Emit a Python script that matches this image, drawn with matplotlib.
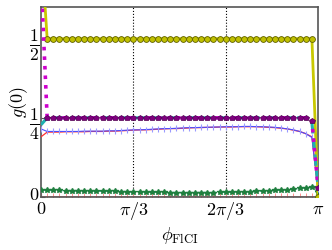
import numpy as np
import matplotlib
matplotlib.use('Agg')
import matplotlib.pyplot as plt
from matplotlib.transforms import ScaledTranslation

plt.rcParams['mathtext.fontset'] = 'cm'
plt.rcParams['font.family'] = 'DejaVu Serif'

# 46 samples of phi between 0 and pi
phi = np.linspace(0, np.pi, 46)

yellow = [0.80] + [0.50] * 44 + [0.0]
magenta = [0.69] + [0.25] * 43 + [0.24, 0.03]
teal = [0.228] + [0.25] * 43 + [0.235, 0.03]
red = [0.190, 0.205, 0.205, 0.205, 0.206, 0.206, 0.206, 0.206, 0.207, 0.207,
       0.207, 0.208, 0.208, 0.209, 0.210, 0.211, 0.212, 0.212, 0.213, 0.214,
       0.215, 0.216, 0.216, 0.217, 0.218, 0.219, 0.219, 0.220, 0.220, 0.221,
       0.221, 0.221, 0.222, 0.222, 0.222, 0.222, 0.221, 0.220, 0.219, 0.217,
       0.215, 0.211, 0.207, 0.200, 0.190, 0.020]
blue = [0.215, 0.207, 0.207, 0.207, 0.207, 0.207, 0.207, 0.208, 0.208, 0.208,
        0.208, 0.209, 0.209, 0.210, 0.211, 0.212, 0.212, 0.213, 0.214, 0.215,
        0.216, 0.216, 0.217, 0.218, 0.219, 0.219, 0.220, 0.220, 0.221, 0.221,
        0.222, 0.222, 0.222, 0.223, 0.223, 0.222, 0.222, 0.221, 0.220, 0.218,
        0.215, 0.212, 0.207, 0.200, 0.188, 0.025]
green = [0.022, 0.021, 0.021, 0.021, 0.020, 0.020, 0.020, 0.019, 0.019, 0.019,
         0.018, 0.018, 0.018, 0.017, 0.017, 0.016, 0.016, 0.016, 0.015, 0.015,
         0.015, 0.014, 0.014, 0.014, 0.014, 0.014, 0.014, 0.014, 0.014, 0.015,
         0.015, 0.015, 0.016, 0.016, 0.017, 0.018, 0.019, 0.020, 0.021, 0.022,
         0.023, 0.025, 0.027, 0.029, 0.031, 0.015]
pink = [0.003] * 46

xticks = [0, np.pi / 3, 2 * np.pi / 3, np.pi]
xticklabels = [r'$0$', r'$\pi/3$', r'$2\pi/3$', r'$\pi$']
yticks = [0, 0.25, 0.5]
yticklabels = [r'$0$', r'$\frac{1}{4}$', r'$\frac{1}{2}$']

fig = plt.figure(figsize=(3.32, 2.5), dpi=100)
ax = fig.add_axes([0.1235, 0.212, 0.8345, 0.76])

for xv in xticks[1:3]:
    ax.axvline(xv, color='black', ls=':', lw=0.8, zorder=1)

ax.plot(phi, pink, color='#ff9090', lw=0.6, marker='|', ms=4, mew=0.7, zorder=2)
ax.plot(phi, green, color='#40b090', ls='--', lw=1.1, marker='*', ms=4,
        mfc='#1f7f3f', mec='#1f7f3f', zorder=3)
ax.plot(phi, red, color='#ff3030', lw=0.9, zorder=4)
ax.plot(phi, blue, color='#4d4dff', lw=0.8, marker='|', ms=5, mec='#9a9aff', mew=0.8, zorder=4)
ax.plot(phi, yellow, color='#c8c800', lw=2, marker='o', ms=4.2, mfc='#c0c000', mec='#606000',
        mew=0.6, zorder=5)
ax.plot(phi, teal, color='#20b0b0', ls='--', lw=2.2, zorder=5)
ax.plot(phi, magenta, color='#cc00cc', ls=':', lw=2.6, marker='p', ms=3.8,
        mfc='#800080', mec='#500050', mew=0.5, zorder=6)

ax.set_xlim(0, np.pi)
ax.set_ylim(0, 0.60)
ax.set_xticks(xticks)
ax.set_xticklabels(xticklabels)
ax.set_yticks(yticks)
ax.set_yticklabels(yticklabels)
ax.tick_params(direction='in', length=3, labelsize=13, pad=2, color='#555555')
ax.tick_params(axis='y', labelsize=18, pad=1)
zero = ax.get_yticklabels()[0]
zero.set_fontsize(13)
zero.set_transform(zero.get_transform() + ScaledTranslation(0, 3 / 72, fig.dpi_scale_trans))
for s in ax.spines.values():
    s.set_color('#555555')
    s.set_linewidth(1.2)

ax.set_xlabel(r'$\phi_{\mathrm{FlCI}}$', fontsize=13, labelpad=2)
ax.set_ylabel(r'$g(0)$', fontsize=13, labelpad=-1)

fig.savefig('out.png', dpi=100)
